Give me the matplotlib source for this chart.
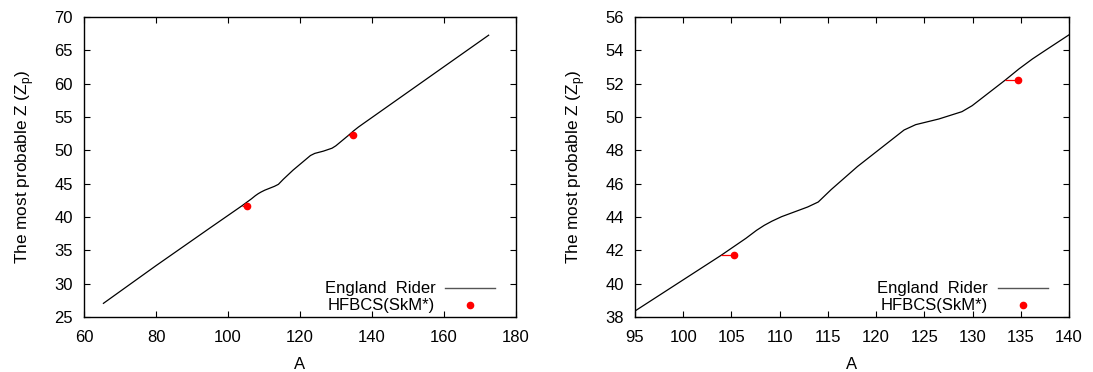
import matplotlib
matplotlib.use("Agg")
import matplotlib.pyplot as plt
from matplotlib.lines import Line2D

plt.rcParams["font.family"] = ["Liberation Sans", "DejaVu Sans"]

# England-Rider most probable Z curve
A_er = [65.4, 80.0, 91.0, 95.0, 103.9, 106.5, 107.6, 108.4, 109.2, 110.2,
        112.9, 114.0, 115.35, 118.07, 122.9, 124.1, 126.5, 128.9, 129.96,
        133.4, 134.8, 136.2, 137.5, 140.0, 150.0, 160.0, 172.4]
Z_er = [27.05, 32.7, 36.85, 38.36, 41.69, 42.72, 43.2, 43.5, 43.75, 44.02,
        44.6, 44.9, 45.65, 47.03, 49.22, 49.54, 49.88, 50.32, 50.68,
        52.22, 52.88, 53.48, 53.98, 54.93, 58.74, 62.55, 67.27]

# HFBCS(SkM*) points
A_hf = [105.3, 134.7]
Z_hf = [41.72, 52.24]
A_hf_err_lo = [1.4, 1.3]

FS = 12

panels = [
    # (axes rect, xlim, ylim, xticks, yticks)
    ([84 / 1093, 55 / 372, 432 / 1093, 300 / 372], (60, 180), (25, 70),
     range(60, 181, 20), range(25, 71, 5)),
    ([635 / 1093, 55 / 372, 434 / 1093, 300 / 372], (95, 140), (38, 56),
     range(95, 141, 5), range(38, 57, 2)),
]

fig = plt.figure(figsize=(10.93, 3.72), dpi=100)

for rect, xlim, ylim, xt, yt in panels:
    ax = fig.add_axes(rect)
    ax.plot(A_er, Z_er, color="black", lw=0.9)
    ax.errorbar(A_hf, Z_hf, xerr=[A_hf_err_lo, [0, 0]], fmt="o", color="red",
                ms=4.5, elinewidth=0.9, capsize=0)
    ax.set_xlim(*xlim); ax.set_ylim(*ylim)
    ax.set_xticks(list(xt)); ax.set_yticks(list(yt))
    ax.tick_params(direction="in", top=True, right=True, length=4,
                   width=0.8, labelsize=FS)
    ax.tick_params(axis="x", pad=9)
    ax.tick_params(axis="y", pad=8)
    for s in ax.spines.values():
        s.set_linewidth(1.0)
    ax.set_xlabel("A", fontsize=FS, labelpad=9)
    ax.set_ylabel("The most probable Z (Z$_\\mathregular{p}$)", fontsize=12.4, labelpad=13)

    handles = [Line2D([], [], color="#555555", lw=1.0),
               Line2D([], [], color="red", marker="o", ms=4.5, ls="none")]
    labels = ["England  Rider", "HFBCS(SkM*)"]
    ax.legend(handles, labels, loc="lower right", bbox_to_anchor=(0.952, 0.012),
              frameon=False, markerfirst=False, fontsize=FS,
              handlelength=3.0, handletextpad=0.6, labelspacing=0.12,
              borderaxespad=0, borderpad=0)

fig.savefig("out.png", dpi=100)
